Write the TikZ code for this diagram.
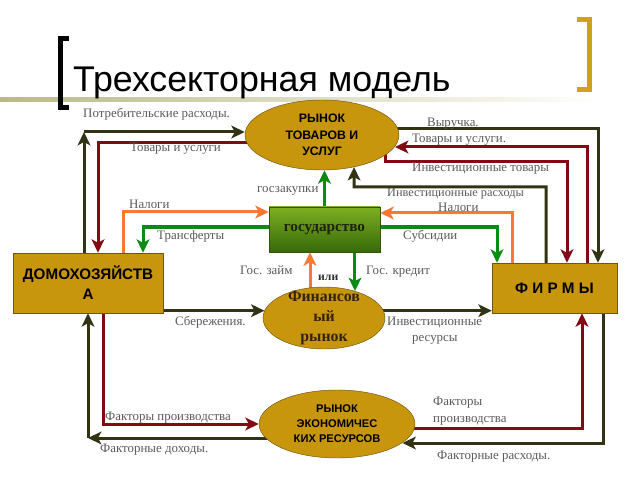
\documentclass[tikz,border=0pt]{standalone}
\usepackage{fontspec}
\setmainfont{Liberation Serif}
\setsansfont{Liberation Sans}
\usepackage{xcolor}
\usetikzlibrary{shapes.geometric}
\usetikzlibrary{arrows.meta}
\usetikzlibrary{backgrounds}

\definecolor{sectorgold}{RGB}{200,150,12}
\definecolor{sectoredge}{RGB}{110,85,20}
\definecolor{olivedark}{RGB}{50,50,20}
\definecolor{wine}{RGB}{130,10,20}
\definecolor{taxorange}{RGB}{250,120,50}
\definecolor{govgreen}{RGB}{10,140,20}
\definecolor{labelgray}{RGB}{90,90,90}
\definecolor{bracketgold}{RGB}{210,160,30}
\definecolor{barolive}{RGB}{185,185,135}

\begin{document}
\begin{tikzpicture}[x=0.03cm, y=-0.03cm,
    flow/.style={line width=0.09cm, -{Stealth[length=0.4cm,width=0.38cm,inset=0.1cm]}},
    sector/.style={draw=sectoredge, fill=sectorgold, align=center, inner sep=0pt},
    lbl/.style={text=labelgray, font=\fontsize{11}{12}\selectfont, anchor=base west, inner sep=0pt}]
    \useasboundingbox (0,0) rectangle (640,480);

    \node[anchor=base west, inner sep=0pt, font=\sffamily\fontsize{30.5}{32}\selectfont] (title) at (73,92) {Трехсекторная модель};

    \node[sector, rectangle, minimum width=4.5cm, minimum height=1.8cm,
        font=\sffamily\bfseries\fontsize{13}{17}\selectfont] (hh) at (88,283) {ДОМОХОЗЯЙСТВ\\А};
    \node[sector, rectangle, minimum width=3.75cm, minimum height=1.5cm,
        font=\sffamily\bfseries\fontsize{13}{15}\selectfont] (firms) at (554.5,288) {Ф И Р М Ы};
    \node[sector, ellipse, minimum width=4.62cm, minimum height=2.1cm,
        font=\sffamily\bfseries\fontsize{10.5}{14}\selectfont] (gm) at (322,135) {РЫНОК\\ТОВАРОВ И\\УСЛУГ};
    \node[draw={rgb,255:red,50;green,85;blue,10}, top color={rgb,255:red,125;green,175;blue,35},
        bottom color={rgb,255:red,55;green,105;blue,10}, minimum width=3.33cm, minimum height=1.35cm,
        font=\bfseries\fontsize{13}{15}\selectfont, text={rgb,255:red,30;green,35;blue,10}] (gov) at (324.5,229.5) {государство};
    \node[sector, ellipse, minimum width=3.66cm, minimum height=1.86cm] (fm) at (324,318) {};
    \node[align=center, inner sep=0pt, font=\bfseries\fontsize{13.5}{17}\selectfont,
        text={rgb,255:red,50;green,35;blue,10}] (fmtext) at (fm) {Финансов\\ый\\рынок};
    \node[sector, ellipse, minimum width=4.68cm, minimum height=2.04cm,
        font=\sffamily\bfseries\fontsize{9.5}{12.75}\selectfont] (rm) at (337,424) {РЫНОК\\ЭКОНОМИЧЕС\\КИХ РЕСУРСОВ};

    \coordinate (cs) at (84,132);
    \coordinate (gh) at (98,143);
    \coordinate (rv) at (598,129);
    \coordinate (gf) at (587,147);
    \coordinate (ig1) at (385,162);
    \coordinate (ig2) at (567,162);
    \coordinate (is1) at (354,187);
    \coordinate (is2) at (546,187);
    \coordinate (tx1) at (123,212);
    \coordinate (tr1) at (143,227);
    \coordinate (tx2) at (512,213);
    \coordinate (sb) at (497,227);
    \coordinate (gl) at (310,270);
    \coordinate (fi) at (88,438);
    \coordinate (fp) at (103,424);
    \coordinate (fq) at (582,428);
    \coordinate (fs) at (603,443);

    \begin{scope}[on background layer]
        \shade[left color=barolive, right color=white] (0,97.5) rectangle (600,102);
        \draw[line width=0.15cm] (69,38.5) -- (60,38.5) -- (60,107.5) -- (69,107.5);
        \draw[line width=0.15cm, bracketgold] (577,19.5) -- (589.5,19.5) -- (589.5,89.5) -- (577,89.5);

        \draw[flow, olivedark] (cs |- hh.center) -- (cs);
        \draw[flow, olivedark] (cs) -- (cs -| gm.west);
        \draw[flow, wine] (gh -| gm.center) -- (gh) -- (gh |- hh.north);
        \draw[flow, olivedark] (rv -| gm.center) -- (rv) -- (rv |- firms.north);
        \draw[flow, wine] (gf |- firms.center) -- (gf) -- (gf -| gm.-9);
        \draw[flow, wine] (ig1 |- gm.center) -- (ig1) -- (ig2) -- (ig2 |- firms.north);
        \draw[flow, olivedark] (is2 |- firms.center) -- (is2) -- (is1) -- (gm.-45);
        \draw[flow, govgreen] (gov.center) -- (gov.north |- gm.south);
        \draw[flow, taxorange] (tx1 |- hh.center) -- (tx1) -- (tx1 -| gov.west);
        \draw[flow, govgreen] (tr1 -| gov.center) -- (tr1) -- (tr1 |- hh.north);
        \draw[flow, taxorange] (tx2 |- firms.center) -- (tx2) -- (tx2 -| gov.east);
        \draw[flow, govgreen] (sb -| gov.center) -- (sb) -- (sb |- firms.north);
        \draw[flow, taxorange] (gl |- fm.center) -- (gl |- gov.south);
        \draw[flow, govgreen] (gov.center -| fm.41) -- (fm.41);
        \draw[flow, olivedark] (hh.center |- fm.173) -- (fm.173);
        \draw[flow, olivedark] (fm.center |- fm.7) -- (firms.west |- fm.7);
        \draw[flow, olivedark] (fi -| rm.center) -- (fi);
        \draw[flow, olivedark] (fi) -- (fi |- hh.south);
        \draw[flow, wine] (fp |- hh.center) -- (fp) -- (rm.west);
        \draw[flow, wine] (fq -| rm.center) -- (fq) -- (fq |- firms.south);
        \draw[flow, olivedark] (fs |- firms.center) -- (fs) -- (fs -| rm.-16);
    \end{scope}

    \node[lbl] (lcons) at (83,118) {Потребительские расходы.};
    \node[lbl] (lgh) at (130,152) {Товары и услуги};
    \node[lbl] (lrev) at (427,127) {Выручка.};
    \node[lbl] (lgf) at (412,143) {Товары и услуги.};
    \node[lbl] (lig) at (412,172) {Инвестиционные товары};
    \node[lbl] (lpur) at (257,193) {госзакупки};
    \node[lbl, font=\fontsize{10.5}{12}\selectfont] (lis) at (387,196.5) {Инвестиционные расходы};
    \node[lbl] (ltx2) at (438,211) {Налоги};
    \node[lbl] (ltx1) at (129,208) {Налоги};
    \node[lbl] (ltr) at (157,240) {Трансферты};
    \node[lbl] (lsb) at (403,240) {Субсидии};
    \node[lbl] (lgl) at (240,274) {Гос. займ};
    \node[lbl, text={rgb,255:red,50;green,50;blue,50}, font=\bfseries\fontsize{10}{12}\selectfont] (lor) at (318,280) {или};
    \node[lbl] (lgc) at (366,274) {Гос. кредит};
    \node[lbl] (lsav) at (175,325) {Сбережения.};
    \node[lbl] (lir1) at (387,325) {Инвестиционные};
    \node[lbl] (lir2) at (412,341) {ресурсы};
    \node[lbl] (lfp) at (105,420) {Факторы производства};
    \node[lbl] (lfi) at (100,452) {Факторные доходы.};
    \node[lbl] (lfq1) at (433,405) {Факторы};
    \node[lbl] (lfq2) at (433,422) {производства};
    \node[lbl] (lfs) at (437,459) {Факторные расходы.};
\end{tikzpicture}
\end{document}
